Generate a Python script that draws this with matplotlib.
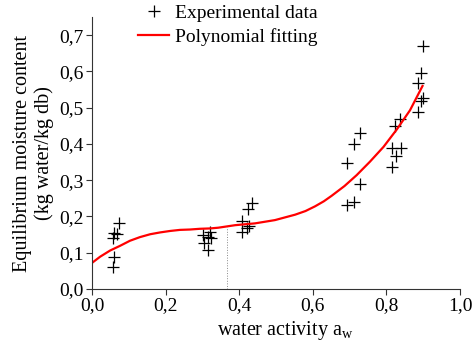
import matplotlib
matplotlib.use("Agg")
import matplotlib.pyplot as plt

plt.rcParams['font.family'] = ['Liberation Serif', 'DejaVu Serif']
plt.rcParams['mathtext.fontset'] = 'custom'
plt.rcParams['mathtext.rm'] = 'Liberation Serif'
plt.rcParams['mathtext.it'] = 'Liberation Serif'

# experimental points (water activity, moisture content)
aw_exp = [0.056, 0.060, 0.072, 0.067, 0.060, 0.056,
          0.302, 0.305, 0.316, 0.321, 0.323, 0.316,
          0.408, 0.408, 0.425, 0.434, 0.427, 0.420,
          0.692, 0.692, 0.712, 0.713, 0.728, 0.728,
          0.814, 0.814, 0.823, 0.825, 0.837, 0.839,
          0.900, 0.893, 0.885, 0.900, 0.893, 0.885]
emc_exp = [0.140, 0.155, 0.181, 0.152, 0.089, 0.060,
           0.149, 0.126, 0.107, 0.158, 0.140, 0.144,
           0.188, 0.158, 0.220, 0.238, 0.174, 0.167,
           0.348, 0.231, 0.400, 0.239, 0.431, 0.289,
           0.337, 0.388, 0.449, 0.366, 0.470, 0.388,
           0.670, 0.597, 0.568, 0.527, 0.519, 0.489]

# fitted curve
aw_fit = [0.0, 0.022, 0.049, 0.076, 0.103, 0.130, 0.158, 0.185, 0.212,
          0.239, 0.266, 0.293, 0.321, 0.343, 0.389, 0.443, 0.497, 0.552,
          0.580, 0.606, 0.630, 0.651, 0.686, 0.719, 0.755, 0.792, 0.828,
          0.864, 0.898]
emc_fit = [0.072, 0.089, 0.106, 0.119, 0.133, 0.143, 0.151, 0.156, 0.160,
           0.163, 0.164, 0.166, 0.167, 0.169, 0.176, 0.181, 0.190, 0.205,
           0.215, 0.228, 0.242, 0.257, 0.284, 0.314, 0.351, 0.392, 0.440,
           0.493, 0.560]

# dotted marker line
aw_mark = 0.367
emc_mark = 0.170

xticks = [0.0, 0.2, 0.4, 0.6, 0.8, 1.0]
xticklabels = ['0,0', '0,2', '0,4', '0,6', '0,8', '1,0']
yticks = [0.0, 0.1, 0.2, 0.3, 0.4, 0.5, 0.6, 0.7]
yticklabels = ['0,0', '0,1', '0,2', '0,3', '0,4', '0,5', '0,6', '0,7']

fig = plt.figure(figsize=(4.72, 3.49), dpi=100)
ax = fig.add_axes([0.195, 0.172, 0.7797, 0.779])

ax.plot(aw_exp, emc_exp, '+', color='black', markersize=8, markeredgewidth=0.9,
        label='Experimental data')
ax.plot(aw_fit, emc_fit, '-', color='#ff0000', linewidth=1.6,
        solid_joinstyle='round', label='Polynomial fitting')
ax.plot([aw_mark, aw_mark], [0, emc_mark], ':', color='#888888', linewidth=0.7)

ax.set_xlim(0, 1.0)
ax.set_ylim(0, 0.75)
ax.set_xticks(xticks)
ax.set_xticklabels(xticklabels)
ax.set_yticks(yticks)
ax.set_yticklabels(yticklabels)
ax.tick_params(direction='out', length=4, width=0.8, labelsize=14, color='#333333', pad=2)

for side in ['top', 'right']:
    ax.spines[side].set_visible(False)
for side in ['left', 'bottom']:
    ax.spines[side].set_color('#333333')
    ax.spines[side].set_linewidth(0.8)

ax.set_xlabel('water activity a$_\\mathrm{w}$', fontsize=14.5, labelpad=4)
ax.xaxis.set_label_coords(0.525, -0.11)
ax.set_ylabel('Equilibrium moisture content\n(kg water/kg db)', fontsize=14.5,
              labelpad=4, linespacing=1.15)

ax.legend(loc='upper left', bbox_to_anchor=(0.104, 1.075), frameon=False, fontsize=14,
          handlelength=1.6, handletextpad=0.3, labelspacing=0.3, borderaxespad=0)

fig.savefig('out.png', dpi=100)
